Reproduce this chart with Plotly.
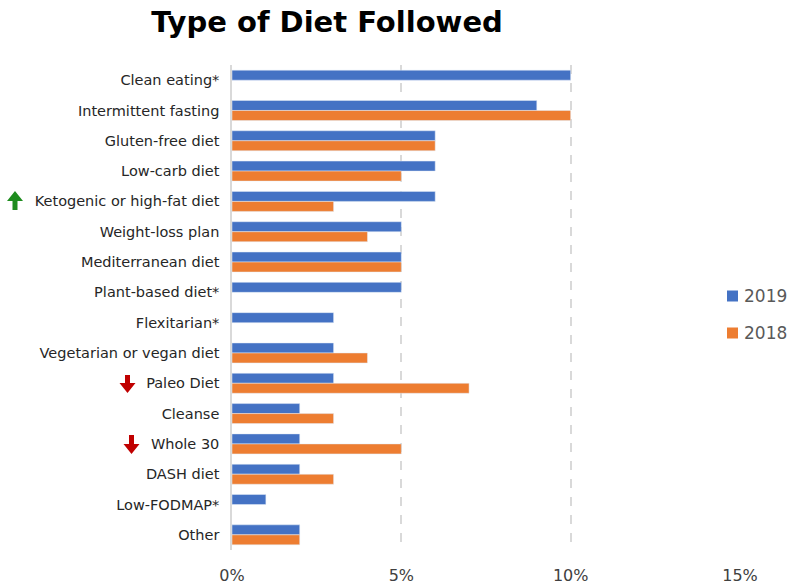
import plotly.graph_objects as go

categories = ["Clean eating*", "Intermittent fasting", "Gluten-free diet", "Low-carb diet",
              "Ketogenic or high-fat diet", "Weight-loss plan", "Mediterranean diet",
              "Plant-based diet*", "Flexitarian*", "Vegetarian or vegan diet", "Paleo Diet",
              "Cleanse", "Whole 30", "DASH diet", "Low-FODMAP*", "Other"]
values_2019 = [10, 9, 6, 6, 6, 5, 5, 5, 3, 3, 3, 2, 2, 2, 1, 2]
values_2018 = [None, 10, 6, 5, 3, 4, 5, None, None, 4, 7, 3, 5, 3, None, 2]
x_ticks = [0, 5, 10, 15]
x_tick_labels = ["0%", "5%", "10%", "15%"]

BLUE = "#4472C4"
ORANGE = "#ED7D31"
W, H = 790, 585
L, R, T, B = 232, 50, 65, 35
pw, ph = W - L - R, H - T - B

fig = go.Figure()
fig.add_trace(go.Bar(y=categories, x=values_2019, orientation="h", name="2019",
                     marker=dict(color=BLUE), showlegend=False))
fig.add_trace(go.Bar(y=categories, x=values_2018, orientation="h", name="2018",
                     marker=dict(color=ORANGE), showlegend=False))

def px2paper(px, py):
    return (px - L) / pw, (H - B - py) / ph

def arrow_path(cx, top, bottom, up, hw=8, sw=2.5, head=10):
    if up:
        pts = [(cx, top), (cx + hw, top + head), (cx + sw, top + head), (cx + sw, bottom),
               (cx - sw, bottom), (cx - sw, top + head), (cx - hw, top + head)]
    else:
        pts = [(cx, bottom), (cx + hw, bottom - head), (cx + sw, bottom - head), (cx + sw, top),
               (cx - sw, top), (cx - sw, bottom - head), (cx - hw, bottom - head)]
    s = ""
    for i, (x, y) in enumerate(pts):
        a, b = px2paper(x, y)
        s += ("M" if i == 0 else "L") + f"{a:.5f},{b:.5f} "
    return s + "Z"

shapes = [
    dict(type="path", xref="paper", yref="paper", path=arrow_path(15, 191, 210, True),
         fillcolor="#1E8C1E", line=dict(width=0)),
    dict(type="path", xref="paper", yref="paper", path=arrow_path(127.5, 375, 393, False),
         fillcolor="#C00000", line=dict(width=0)),
    dict(type="path", xref="paper", yref="paper", path=arrow_path(131.5, 435, 454, False),
         fillcolor="#C00000", line=dict(width=0)),
]
# legend squares
for yc, col in [(296, BLUE), (333, ORANGE)]:
    x0, y0 = px2paper(727, yc - 5.5)
    x1, y1 = px2paper(738, yc + 5.5)
    shapes.append(dict(type="rect", xref="paper", yref="paper", x0=x0, x1=x1, y0=y0, y1=y1,
                       fillcolor=col, line=dict(width=0)))

annotations = []
for yc, txt in [(296, "2019"), (333, "2018")]:
    ax, ay = px2paper(742, yc)
    annotations.append(dict(x=ax, y=ay, xref="paper", yref="paper", text=txt, showarrow=False,
                            xanchor="left", yanchor="middle",
                            font=dict(family="DejaVu Sans", size=17, color="#595959")))

fig.update_layout(
    width=W, height=H,
    margin=dict(l=L, r=R, t=T, b=B, autoexpand=False),
    paper_bgcolor="white", plot_bgcolor="white",
    barmode="group", bargap=0.34, bargroupgap=0,
    title=dict(text="<b>Type of Diet Followed</b>", x=(327) / W, xanchor="center",
               y=1 - 22 / H, yanchor="middle",
               font=dict(family="DejaVu Sans", size=29, color="black")),
    xaxis=dict(range=[0, 15], tickvals=x_ticks, ticktext=x_tick_labels, automargin=False,
               showgrid=True, gridcolor="#D9D9D9", griddash="dash", gridwidth=1.5,
               zeroline=False, showline=False, ticklabelstandoff=14,
               tickfont=dict(family="DejaVu Sans", size=16, color="#404040")),
    yaxis=dict(autorange="reversed", showgrid=False, showline=True, linecolor="#D9D9D9",
               linewidth=1.5, ticks="", ticklabelstandoff=8, automargin=False,
               tickfont=dict(family="DejaVu Sans", size=14.5, color="#262626")),
    shapes=shapes, annotations=annotations,
)
fig.write_html("out.html")
